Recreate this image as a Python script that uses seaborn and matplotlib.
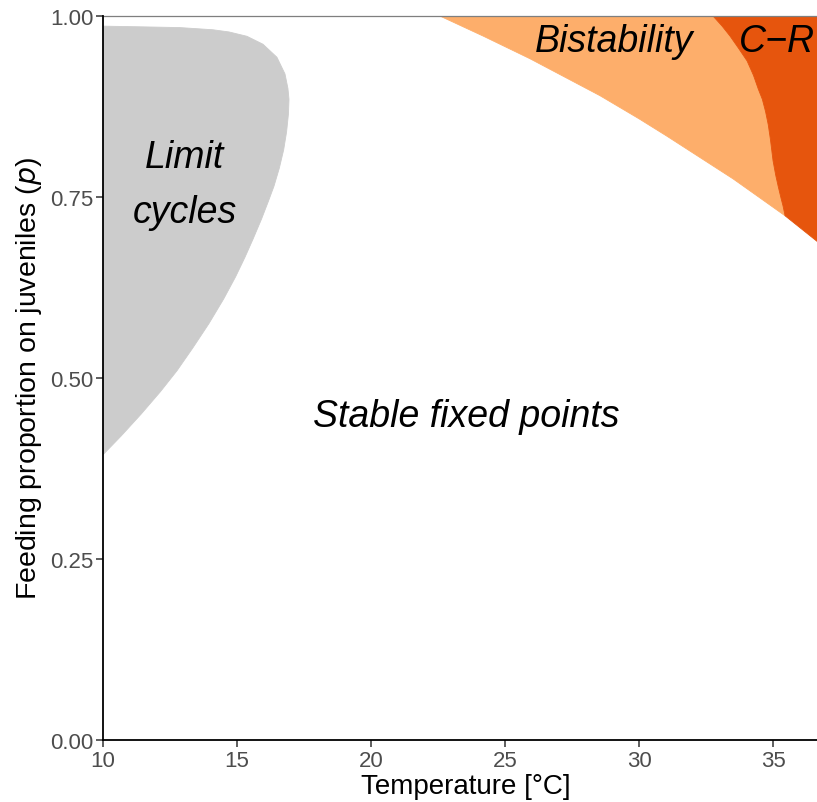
import matplotlib
matplotlib.use("Agg")
import matplotlib.pyplot as plt
import seaborn as sns

# Outline of the limit-cycle region (temperature, feeding proportion),
# traced from the lower-left corner round to the upper-left corner
limit_T = [10.00, 10.68, 11.42, 12.14, 12.76, 13.36, 13.95, 14.50, 14.95,
           15.30, 15.60, 15.92, 16.18, 16.38, 16.58, 16.74, 16.85, 16.92,
           16.94, 16.90, 16.79, 16.49, 15.97, 15.37, 14.70, 14.10, 12.87,
           11.50, 10.00]
limit_p = [0.394, 0.420, 0.450, 0.481, 0.510, 0.542, 0.575, 0.609, 0.640,
           0.667, 0.692, 0.720, 0.745, 0.765, 0.790, 0.815, 0.840, 0.865,
           0.885, 0.900, 0.920, 0.943, 0.961, 0.972, 0.978, 0.981, 0.984,
           0.985, 0.986]

# Lower edge of the bistable zone, continuing under the C-R zone
edge_T = [22.57, 24.20, 25.93, 28.54, 30.00, 31.04, 33.51, 34.50, 35.45, 36.70]
edge_p = [1.000, 0.972, 0.941, 0.890, 0.858, 0.834, 0.775, 0.749, 0.724, 0.687]

# Boundary between bistability and consumer-resource (C-R) dynamics
cr_T = [32.76, 33.10, 33.40, 33.72, 34.03, 34.27, 34.45, 34.60, 34.72,
        34.82, 34.90, 35.00, 35.10, 35.19, 35.30, 35.37, 35.45]
cr_p = [1.000, 0.986, 0.972, 0.955, 0.938, 0.918, 0.899, 0.885, 0.868,
        0.850, 0.830, 0.800, 0.780, 0.765, 0.748, 0.738, 0.724]

x_ticks = [10, 15, 20, 25, 30, 35]
y_ticks = [0.00, 0.25, 0.50, 0.75, 1.00]

region_labels = {
    "limit": ("Limit", "cycles"),
    "stable": "Stable fixed points",
    "bistable": "Bistability",
    "cr": "C\u2212R",
}

c_limit = "#CCCCCC"
c_bist = "#FDAE6B"
c_cr = "#E6550D"

sns.set_theme(style="white")
plt.rcParams["font.family"] = ["Liberation Sans", "DejaVu Sans"]

fig = plt.figure(figsize=(8.17, 8.03), dpi=100)
ax = fig.add_axes([103 / 817, 62 / 803, 725 / 817, 724 / 803])

# limit-cycle region
ax.fill(limit_T, limit_p, color=c_limit, lw=0.6, ec=c_limit, zorder=2)

# bistable region: lower edge up to the junction, then back up the C-R boundary
n_join = edge_T.index(cr_T[-1])
bist_T = edge_T[: n_join + 1] + cr_T[::-1][1:]
bist_p = edge_p[: n_join + 1] + cr_p[::-1][1:]
ax.fill(bist_T, bist_p, color=c_bist, lw=0.6, ec=c_bist, zorder=2)

# C-R region: right of the boundary, above the lower edge
cr_poly_T = cr_T + edge_T[n_join + 1:] + [edge_T[-1]]
cr_poly_p = cr_p + edge_p[n_join + 1:] + [1.0]
ax.fill(cr_poly_T, cr_poly_p, color=c_cr, lw=0.6, ec=c_cr, zorder=2)

ax.set_xlim(10, 37.05)
ax.set_ylim(0, 1)
ax.set_xticks(x_ticks)
ax.set_xticklabels([str(t) for t in x_ticks])
ax.set_yticks(y_ticks)
ax.set_yticklabels([f"{t:.2f}" for t in y_ticks])

ax.tick_params(axis="both", which="major", length=5, width=1.1,
               color="#333333", labelcolor="#4D4D4D", labelsize=16, pad=2,
               left=True, bottom=True)

for side in ("left", "bottom"):
    ax.spines[side].set_color("black")
    ax.spines[side].set_linewidth(1.3)
    ax.spines[side].set_zorder(5)
ax.spines["top"].set_color("#7F7F7F")
ax.spines["top"].set_linewidth(0.9)
ax.spines["right"].set_visible(False)

ax.set_xlabel("Temperature [\u00b0C]", fontsize=20, color="black", labelpad=2)
ax.set_ylabel("Feeding proportion on juveniles ($\\mathit{p}$)",
              fontsize=20.5, color="black", labelpad=4)

txt = dict(fontsize=27, style="italic", color="black", zorder=4)
ax.text(13.04, 0.7914, region_labels["limit"][0], ha="center", va="baseline", **txt)
ax.text(13.04, 0.7155, region_labels["limit"][1], ha="center", va="baseline", **txt)
ax.text(23.56, 0.4337, region_labels["stable"], ha="center", va="baseline", **txt)
ax.text(29.07, 0.9517, region_labels["bistable"], ha="center", va="baseline", **txt)
ax.text(33.72, 0.9517, region_labels["cr"], ha="left", va="baseline", **txt)

fig.savefig("out.png", dpi=100)
